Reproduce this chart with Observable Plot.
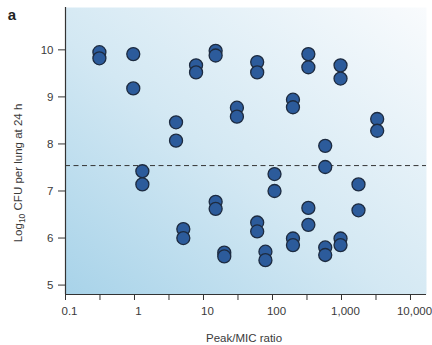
<!DOCTYPE html>
<html><head><meta charset="utf-8">
<script src="https://cdn.jsdelivr.net/npm/d3@7"></script>
<script src="https://cdn.jsdelivr.net/npm/@observablehq/plot@0.6"></script>
<style>
body{margin:0;background:#fff;}
svg{display:block;}
</style>
</head><body><div id="chart"></div>
<script>
// Peak/MIC ratio (x) and Log10 CFU per lung at 24 h (y)
const ratio = [0.31,0.31, 0.96,0.96, 1.3,1.3, 4.0,4.0, 5.1,5.1, 7.8,7.8,
  15,15,15,15, 20,20, 30.5,30.5, 60,60,60,60, 79,79, 107,107,
  198,198,198,198, 331,331,331,331, 581,581,581,581, 968,968,968,968,
  1763,1763, 3290,3290];
const cfu = [9.95,9.82, 9.91,9.18, 7.42,7.14, 8.46,8.07, 6.19,6.00, 9.67,9.52,
  9.98,9.88,6.77,6.62, 5.69,5.61, 8.77,8.58, 9.74,9.52,6.33,6.14, 5.71,5.53, 7.36,7.00,
  8.94,8.78,5.99,5.85, 9.91,9.63,6.64,6.28, 7.96,7.51,5.80,5.64, 9.67,9.39,5.99,5.85,
  7.14,6.59, 8.53,8.28];
const majorTicks = [0.1, 1, 10, 100, 1000, 10000];
const majorLabels = ["0.1", "1", "10", "100", "1,000", "10,000"];
const minorTicks = [0.316, 3.16, 31.6, 316, 3162];
const yTicks = [5, 6, 7, 8, 9, 10];
const threshold = [7.54];
const xTitle = "Peak/MIC ratio";

const points = ratio.map((r, i) => ({ratio: r, cfu: cfu[i]}));
const labelOf = new Map(majorTicks.map((t, i) => [t, majorLabels[i]]));
const font = "'Liberation Sans', Arial, sans-serif";

const chart = Plot.plot({
  width: 432, height: 345,
  marginTop: 7, marginRight: 6, marginBottom: 51, marginLeft: 65,
  x: {type: "log", domain: [0.1, 17060], axis: null},
  y: {domain: [4.8, 10.9], axis: null},
  style: {fontFamily: font, fontSize: "11px", color: "#3a3a3a", background: "white", overflow: "visible"},
  marks: [
    Plot.frame({fill: "url(#bg)", stroke: "none"}),
    Plot.ruleY(threshold, {stroke: "#333", strokeWidth: 1, strokeDasharray: "5,3.5"}),
    Plot.axisX(majorTicks.concat(minorTicks), {tickSize: 6, tickFormat: () => "", label: null, stroke: "#333"}),
    Plot.text(majorTicks, {x: d => d, text: d => labelOf.get(d), frameAnchor: "bottom", dy: 17, dx: 4, lineAnchor: "middle", fontSize: 11.5, fill: "#3a3a3a"}),
    Plot.axisY(yTicks, {tickSize: 7, tickPadding: 5, label: null, stroke: "#333", fill: "#3a3a3a", fontSize: 11.5}),
    Plot.ruleX([0.1], {stroke: "#333", strokeWidth: 1.2}),
    Plot.ruleY([4.8], {stroke: "#333", strokeWidth: 1.2}),
    Plot.dot(points, {x: "ratio", y: "cfu", r: 6.5, fill: "#2c5b9b", stroke: "#1d2b40", strokeWidth: 1.3}),
    Plot.text([xTitle], {frameAnchor: "bottom", dy: 47, dx: -2, fontSize: 11.5, fill: "#3a3a3a"})
  ]
});

const svg = d3.select(chart.tagName.toLowerCase() === "svg" ? chart : chart.querySelector("svg"));
const defs = svg.insert("defs", ":first-child");
const g = defs.append("linearGradient").attr("id", "bg")
  .attr("x1", 0).attr("y1", 1).attr("x2", 1).attr("y2", 0);
g.append("stop").attr("offset", "0%").attr("stop-color", "#a8d3e9");
g.append("stop").attr("offset", "45%").attr("stop-color", "#d3e8f3");
g.append("stop").attr("offset", "100%").attr("stop-color", "#f9fbfd");

// y-axis title with subscript
const yt = svg.append("text")
  .attr("transform", "translate(22,173) rotate(-90)")
  .attr("text-anchor", "middle")
  .attr("font-family", font).attr("font-size", 11.5).attr("fill", "#3a3a3a");
yt.append("tspan").text("Log");
yt.append("tspan").attr("font-size", 8.5).attr("dy", 3).text("10");
yt.append("tspan").attr("dy", -3).text(" CFU per lung at 24 h");

// panel letter
svg.append("text").attr("x", 12).attr("y", 20)
  .attr("font-family", font).attr("font-size", 15).attr("font-weight", "bold")
  .attr("fill", "#222").text("a");

document.getElementById("chart").appendChild(chart);
</script>
</body></html>
